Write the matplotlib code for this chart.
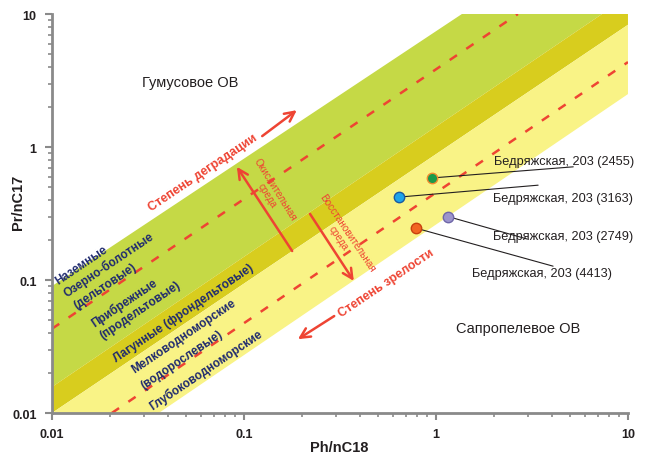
import numpy as np
import matplotlib
matplotlib.use("Agg")
import matplotlib.pyplot as plt
from matplotlib.ticker import LogLocator, FixedLocator, FixedFormatter, NullFormatter

plt.rcParams["font.family"] = ["Liberation Sans", "DejaVu Sans"]

# facies bands (polygon vertices in Ph/nC18, Pr/nC17)
green_x = [0.01, 1.365, 7.33, 0.01]
green_y = [0.09, 10.0, 10.0, 0.0157]
olive_x = [0.01, 7.33, 10.0, 10.0, 0.01]
olive_y = [0.0157, 10.0, 10.0, 8.3, 0.01]
yellow_x = [0.01, 10.0, 10.0, 0.036]
yellow_y = [0.01, 8.3, 2.5, 0.01]

# dashed boundary lines
upper_dash_x = [0.01, 2.67]
upper_dash_y = [0.043, 10.0]
lower_dash_x = [0.0205, 10.0]
lower_dash_y = [0.01, 4.35]

# samples
samples = ["Бедряжская, 203 (2455)", "Бедряжская, 203 (3163)",
           "Бедряжская, 203 (2749)", "Бедряжская, 203 (4413)"]
ph_nc18 = [0.95, 0.64, 1.155, 0.79]
pr_nc17 = [0.585, 0.42, 0.30, 0.245]
face = ["#1a9a4a", "#1ea4ea", "#9c94cc", "#f26522"]
edge = ["#f08a30", "#1a5aa0", "#6e66a8", "#c8400e"]
# label anchor (axes fraction) and leader-line end
label_pos = [(0.767, 0.632), (0.766, 0.539), (0.766, 0.444), (0.729, 0.351)]
leader_end = [(0.905, 0.617), (0.844, 0.571), (0.825, 0.436), (0.870, 0.368)]

facies = ["Наземные", "Озерно-болотные", "(дельтовые)", "Прибрежные",
          "(продельтовые)", "Лагунные (фрондельтовые)", "Мелководноморские",
          "(водорослевые)", "Глубоководноморские"]
facies_pos = [(0.052, 0.371), (0.099, 0.373), (0.092, 0.318), (0.125, 0.278),
              (0.153, 0.258), (0.229, 0.251), (0.229, 0.195), (0.226, 0.135),
              (0.267, 0.110)]

RED = "#ee4433"
BLUE = "#1f2a6e"
INK = "#231f20"
ROT = 34

fig = plt.figure(figsize=(6.62, 4.56), dpi=100)
ax = fig.add_axes([0.0785, 0.0921, 0.8701, 0.875])
ax.set_xscale("log")
ax.set_yscale("log")
ax.set_xlim(0.01, 10)
ax.set_ylim(0.01, 10)

ax.fill(green_x, green_y, color="#c5d946", lw=0, zorder=1)
ax.fill(olive_x, olive_y, color="#d8cd1e", lw=0, zorder=1)
ax.fill(yellow_x, yellow_y, color="#f9f386", lw=0, zorder=1)

for xs, ys in [(upper_dash_x, upper_dash_y), (lower_dash_x, lower_dash_y)]:
    ax.plot(xs, ys, color=RED, lw=1.8, dashes=(3.5, 4.5), zorder=2)

# facies names
for name, (fx, fy) in zip(facies, facies_pos):
    ax.text(fx, fy, name, transform=ax.transAxes, rotation=ROT,
            rotation_mode="anchor", ha="center", va="center",
            fontsize=8.5, fontweight="bold", color=BLUE, zorder=3)

ax.text(0.240, 0.830, "Гумусовое ОВ", transform=ax.transAxes,
        ha="center", va="center", fontsize=10.5, color=INK)
ax.text(0.809, 0.213, "Сапропелевое ОВ", transform=ax.transAxes,
        ha="center", va="center", fontsize=10.5, color=INK)

# trend arrows and captions
arrow = dict(arrowstyle="->,head_length=0.7,head_width=0.35", color=RED, lw=1.8,
             shrinkA=0, shrinkB=0)
for tail, tip in [((0.365, 0.694), (0.425, 0.759)),
                  ((0.490, 0.243), (0.427, 0.185)),
                  ((0.417, 0.406), (0.321, 0.617)),
                  ((0.448, 0.499), (0.524, 0.331))]:
    ax.annotate("", xy=tip, xytext=tail, xycoords="axes fraction",
                textcoords="axes fraction", arrowprops=arrow, zorder=4)

ax.text(0.262, 0.604, "Степень деградации", transform=ax.transAxes,
        rotation=ROT, rotation_mode="anchor", ha="center", va="center",
        fontsize=9, fontweight="bold", color=RED, zorder=4)
ax.text(0.580, 0.328, "Степень зрелости", transform=ax.transAxes,
        rotation=ROT, rotation_mode="anchor", ha="center", va="center",
        fontsize=9, fontweight="bold", color=RED, zorder=4)
ax.text(0.380, 0.554, "Окислительная\nсреда", transform=ax.transAxes,
        rotation=-58, rotation_mode="anchor", ha="center", va="center",
        multialignment="center", linespacing=1.0,
        fontsize=7.2, color=RED, zorder=4)
ax.text(0.505, 0.446, "Восстановительная\nсреда", transform=ax.transAxes,
        rotation=-56, rotation_mode="anchor", ha="center", va="center",
        multialignment="center", linespacing=1.0,
        fontsize=7.2, color=RED, zorder=4)

# samples with leader lines
for i, name in enumerate(samples):
    ax.annotate("", xy=(ph_nc18[i], pr_nc17[i]), xycoords="data",
                xytext=leader_end[i], textcoords="axes fraction",
                arrowprops=dict(arrowstyle="-", color=INK, lw=0.8,
                                shrinkA=0, shrinkB=0), zorder=5)
    ax.text(label_pos[i][0], label_pos[i][1], name, transform=ax.transAxes,
            ha="left", va="center", fontsize=9.2, color=INK, zorder=6)
    ax.plot(ph_nc18[i], pr_nc17[i], "o", ms=7.5, mfc=face[i], mec=edge[i],
            mew=1.0, zorder=7, clip_on=False)

# axes styling
for side in ["top", "right"]:
    ax.spines[side].set_visible(False)
for side in ["left", "bottom"]:
    ax.spines[side].set_color("#8a8a8a")
    ax.spines[side].set_linewidth(2.0)
    ax.spines[side].set_zorder(8)

ticks = [0.01, 0.1, 1, 10]
tick_labels = ["0.01", "0.1", "1", "10"]
for axis in [ax.xaxis, ax.yaxis]:
    axis.set_major_locator(FixedLocator(ticks))
    axis.set_major_formatter(FixedFormatter(tick_labels))
    axis.set_minor_locator(LogLocator(base=10, subs=np.arange(2, 10)))
    axis.set_minor_formatter(NullFormatter())
ax.tick_params(which="major", length=5, width=1.5, color="#8a8a8a",
               labelsize=9, labelcolor=INK, pad=6)
ax.tick_params(which="minor", length=3, width=1.2, color="#8a8a8a")
for lab in ax.get_xticklabels() + ax.get_yticklabels():
    lab.set_fontweight("bold")

ax.set_xlabel("Ph/nC18", fontsize=10.5, fontweight="bold", color=INK)
ax.set_ylabel("Pr/nC17", fontsize=10.5, fontweight="bold", color=INK)
ax.xaxis.set_label_coords(0.499, -0.068)
ax.yaxis.set_label_coords(-0.047, 0.53)

fig.savefig("out.png", dpi=100)
